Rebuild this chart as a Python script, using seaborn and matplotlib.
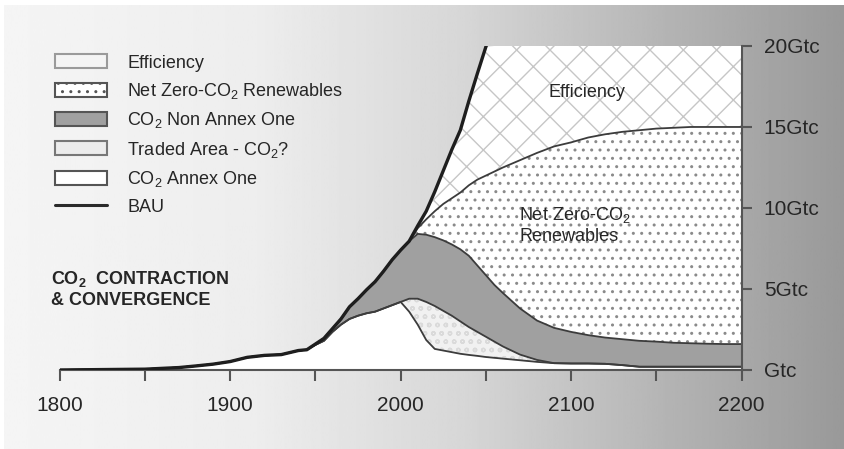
import numpy as np
import matplotlib
matplotlib.use("Agg")
import matplotlib.pyplot as plt
import matplotlib.patches as mpatches
from matplotlib.lines import Line2D
import seaborn as sns

# Years common to every boundary curve
years = [1800, 1850, 1860, 1870, 1880, 1890, 1900, 1910, 1920, 1930, 1940,
         1945, 1950, 1955, 1960, 1965, 1970, 1975, 1980, 1985, 1990, 1995, 2000,
         2005, 2010, 2015, 2020, 2025, 2030, 2035, 2040, 2045, 2050, 2055, 2060,
         2070, 2080, 2090, 2100, 2110, 2120, 2130, 2140, 2150, 2160, 2170, 2180,
         2190, 2200]

# Business as usual (GtC), until it leaves the chart
bau = [0.0, 0.05, 0.1, 0.15, 0.25, 0.36, 0.52, 0.78, 0.9, 0.95, 1.2,
       1.25, 1.6, 1.95, 2.55, 3.15, 3.9, 4.4, 4.95, 5.45, 6.1, 6.8, 7.4,
       7.95, 8.9, 9.8, 11.0, 12.3, 13.6, 14.8, 16.6, 18.3, 19.95, 21.5, 23.0]

# Top of the CO2 Annex One band
annex_one = [0.0, 0.05, 0.1, 0.15, 0.25, 0.36, 0.52, 0.78, 0.9, 0.95, 1.2,
             1.25, 1.55, 1.8, 2.35, 2.8, 3.15, 3.35, 3.5, 3.6, 3.8, 4.0, 4.2,
             3.6, 2.8, 1.85, 1.3, 1.2, 1.1, 1.0, 0.93, 0.87, 0.8, 0.75, 0.7,
             0.6, 0.5, 0.42, 0.4, 0.4, 0.38, 0.3, 0.2, 0.2, 0.2, 0.2, 0.2,
             0.2, 0.2]

# Top of the traded area (same as Annex One before 2000)
traded_top = annex_one[:23] + [
    4.4, 4.4, 4.2, 3.95, 3.65, 3.35, 3.0, 2.65, 2.35, 2.05, 1.75, 1.45,
    0.95, 0.62, 0.42, 0.4, 0.4, 0.38, 0.3, 0.2, 0.2, 0.2, 0.2, 0.2,
    0.2, 0.2]

# Top of CO2 Non Annex One (follows BAU before 2005)
non_annex_top = bau[:23] + [
    7.95, 8.4, 8.35, 8.2, 8.0, 7.75, 7.45, 7.05, 6.45, 5.85, 5.25, 4.75,
    3.8, 3.05, 2.6, 2.35, 2.15, 2.0, 1.9, 1.8, 1.75, 1.68, 1.65, 1.62,
    1.6, 1.6]

# Top of net zero-CO2 renewables (follows BAU before 2005)
renewables_top = bau[:23] + [
    7.95, 8.75, 9.3, 9.8, 10.25, 10.6, 10.95, 11.4, 11.75, 12.0, 12.25, 12.5,
    12.95, 13.4, 13.8, 14.05, 14.35, 14.55, 14.7, 14.8, 14.9, 14.95, 15.0, 15.0,
    15.0, 15.0]

x_ticks = [1800, 1900, 2000, 2100, 2200]
x_minor = [1850, 1950, 2050, 2150]
y_ticks = [0, 5, 10, 15, 20]
y_tick_labels = ["Gtc", "5Gtc", "10Gtc", "15Gtc", "20Gtc"]
legend_labels = ["Efficiency", "Net Zero-CO$_2$ Renewables", "CO$_2$ Non Annex One",
                 "Traded Area - CO$_2$?", "CO$_2$ Annex One", "BAU"]
Y_MAX = 20

sns.set_style("white")
plt.rcParams["font.family"] = ["Liberation Sans", "DejaVu Sans"]
plt.rcParams["mathtext.default"] = "regular"
plt.rcParams["hatch.linewidth"] = 1.0

fig = plt.figure(figsize=(8.44, 4.49), dpi=100)

# grey gradient behind everything
bg = fig.add_axes([0.005, 0, 0.995, 0.989])
grad = np.interp(np.linspace(0, 1, 500), [0, 0.3, 0.55, 0.8, 1.0],
                 [0.96, 0.93, 0.84, 0.70, 0.60])
bg.imshow(grad[None, :], cmap="gray", vmin=0, vmax=1, aspect="auto",
          extent=[0, 1, 0, 1])
bg.axis("off")

ax = fig.add_axes([0.0707, 0.176, 0.808, 0.7216])
ax.patch.set_alpha(0)

yrs = np.array(years)
eff_top = np.full(len(years), float(Y_MAX))
eff_top[:len(bau)] = np.minimum(bau, Y_MAX)

# stacked bands
ax.fill_between(yrs, 0, annex_one, facecolor="white", linewidth=0, zorder=1)
ax.fill_between(yrs, annex_one, traded_top, facecolor="#f1f1f1",
                edgecolor="#dadada", hatch="oo", linewidth=0, zorder=1)
ax.fill_between(yrs, traded_top, non_annex_top, facecolor="#a0a0a0",
                linewidth=0, zorder=1)
ax.fill_between(yrs, non_annex_top, renewables_top, facecolor="white",
                edgecolor="#8a8a8a", hatch="..", linewidth=0, zorder=1)
ax.fill_between(yrs, renewables_top, eff_top, facecolor="white",
                edgecolor="#c6c6c6", hatch="x", linewidth=0, zorder=1)

# band outlines
for curve in [annex_one, traded_top, non_annex_top, renewables_top]:
    ax.plot(yrs, curve, color="#3c3c3c", lw=1.3, zorder=2)

sns.lineplot(x=years[:len(bau)], y=bau, color="#1e1e1e", lw=2.4, ax=ax,
             zorder=3, legend=False)

ax.set_xlim(1800, 2200)
ax.set_ylim(0, Y_MAX)

ax.set_xticks(x_ticks)
ax.set_xticks(x_minor, minor=True)
ax.tick_params(axis="x", which="both", bottom=True, direction="out", length=8,
               width=1.5, color="#555555", labelsize=15, pad=11)
ax.yaxis.tick_right()
ax.set_yticks(y_ticks, y_tick_labels)
ax.tick_params(axis="y", right=True, left=False, direction="out", length=7,
               width=1.5, color="#555555", labelsize=15, pad=9)
for side in ["left", "top"]:
    ax.spines[side].set_visible(False)
for side in ["bottom", "right"]:
    ax.spines[side].set_color("#555555")
    ax.spines[side].set_linewidth(1.5)
ax.set_xlabel("")
ax.set_ylabel("")

ax.text(2109, 17.1, "Efficiency", ha="center", va="center", fontsize=13)
ax.text(2069.5, 8.95, "Net Zero-CO$_2$\nRenewables", ha="left", va="center",
        fontsize=13, linespacing=1.25)
fig.text(0.061, 0.357, "CO$_2$  CONTRACTION\n& CONVERGENCE", fontsize=13,
         weight="bold", ha="left", va="center", linespacing=1.2)

handles = [
    mpatches.Patch(facecolor="#f4f4f4", edgecolor="#9a9a9a", lw=1.5),
    mpatches.Patch(facecolor="white", edgecolor="#555555", hatch="..", lw=1.5),
    mpatches.Patch(facecolor="#a0a0a0", edgecolor="#555555", lw=1.5),
    mpatches.Patch(facecolor="#ececec", edgecolor="#777777", lw=1.5),
    mpatches.Patch(facecolor="white", edgecolor="#555555", lw=1.5),
    Line2D([], [], color="#2a2a2a", lw=2.2),
]
fig.legend(handles, legend_labels, loc="upper left",
           bbox_to_anchor=(0.065, 0.879), frameon=False, fontsize=13,
           handlelength=2.9, handleheight=0.8, handletextpad=1.1,
           labelspacing=0.52, borderpad=0, borderaxespad=0)

fig.savefig("out.png", dpi=100)
